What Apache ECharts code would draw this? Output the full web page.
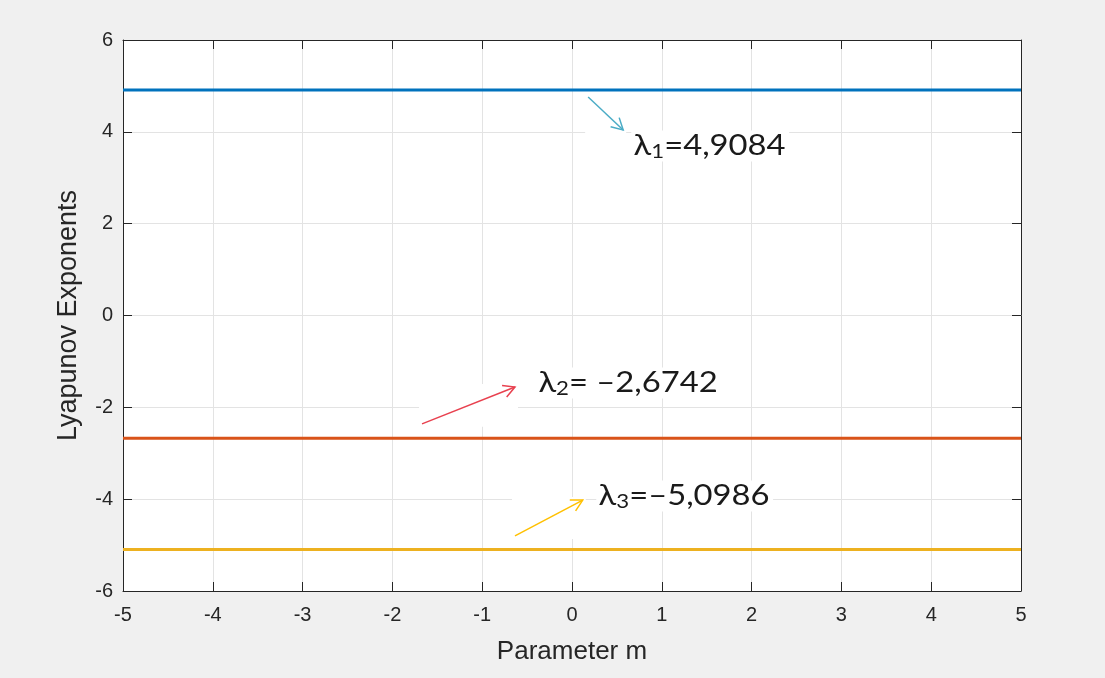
<!DOCTYPE html>
<html>
<head>
<meta charset="utf-8">
<script src="https://cdn.jsdelivr.net/npm/echarts@6/dist/echarts.min.js"></script>
<style>
  html, body { margin: 0; padding: 0; background: #f0f0f0; }
  #g_chart { width: 1105px; height: 678px; }
</style>
</head>
<body>
<div id="g_chart"></div>
<script>
// range of the parameter m
var paramRange = [-5, 5];
// exponents
var lambdaNames = ['λ1', 'λ2', 'λ3'];
var lambdaValues = [4.9084, -2.6742, -5.0986];
var lambdaColors = ['#0072bd', '#d95319', '#edb120'];
// annotation labels
var noteTexts = ['=4,9084', '= –2,6742', '=–5,0986'];
var noteSubs = ['1', '2', '3'];
var noteColors = ['#4bacc6', '#e8414f', '#ffc000'];
// arrow start / end, label anchor (data units)
var arrowFrom = [[0.18, 4.76], [-1.67, -2.36], [-0.635, -4.80]];
var arrowTo = [[0.57, 4.04], [-0.635, -1.557], [0.12, -4.02]];
var labelAt = [[0.66, 3.69], [-0.40, -1.47], [0.27, -3.93]];

var xTicks = [-5, -4, -3, -2, -1, 0, 1, 2, 3, 4, 5];
var yTicks = [-6, -4, -2, 0, 2, 4, 6];

var chart = echarts.init(document.getElementById('g_chart'));

var axisCol = '#262626';
var axisFont = '"Liberation Sans", Arial, Helvetica, sans-serif';
function baseAxis(extra) {
    var a = {
        axisLine: { show: true, onZero: false, lineStyle: { color: axisCol, width: 1 } },
        axisTick: { show: true, inside: true, length: 9, lineStyle: { color: axisCol } },
        splitLine: { show: false },
        axisLabel: { show: false }
    };
    for (var k in extra) a[k] = extra[k];
    return a;
}

var series = [];
lambdaValues.map(function (v, i) {
    series.push({
        name: lambdaNames[i],
        type: 'line',
        symbol: 'none',
        lineStyle: { color: lambdaColors[i], width: 3 },
        data: paramRange.map(function (m) { return [m, v]; }),
        z: 3
    });
});

// arrows
series.push({
    type: 'custom',
    z: 4,
    data: arrowFrom.map(function (p, i) {
        return [p[0], p[1], arrowTo[i][0], arrowTo[i][1], i];
    }),
    renderItem: function (params, api) {
        var p0 = api.coord([api.value(0), api.value(1)]);
        var p1 = api.coord([api.value(2), api.value(3)]);
        var col = noteColors[api.value(4)];
        var ang = Math.atan2(p1[1] - p0[1], p1[0] - p0[0]);
        var h = 13, a = 0.5;
        var hl = [p1[0] - h * Math.cos(ang - a), p1[1] - h * Math.sin(ang - a)];
        var hr = [p1[0] - h * Math.cos(ang + a), p1[1] - h * Math.sin(ang + a)];
        var x0 = Math.min(p0[0], p1[0]) - 3, y0 = Math.min(p0[1], p1[1]) - 3;
        var w = Math.abs(p1[0] - p0[0]) + 6, hh = Math.abs(p1[1] - p0[1]) + 6;
        return {
            type: 'group',
            children: [
                { type: 'rect', shape: { x: x0, y: y0, width: w, height: hh }, style: { fill: '#fff' } },
                { type: 'line', shape: { x1: p0[0], y1: p0[1], x2: p1[0], y2: p1[1] },
                  style: { stroke: col, lineWidth: 1.5 } },
                { type: 'polyline', shape: { points: [hl, p1, hr] },
                  style: { stroke: col, fill: null, lineWidth: 1.5 } }
            ]
        };
    }
});

// labels (slightly wide face, like the original)
series.push({
    type: 'custom',
    z: 5,
    data: labelAt.map(function (p, i) { return [p[0], p[1], i]; }),
    renderItem: function (params, api) {
        var p = api.coord([api.value(0), api.value(1)]);
        var i = api.value(2);
        return {
            type: 'text',
            x: p[0],
            y: p[1],
            scaleX: 1.17,
            style: {
                text: '{l|λ}{s|' + noteSubs[i] + '}{l|' + noteTexts[i] + '}',
                align: 'left',
                verticalAlign: 'middle',
                backgroundColor: '#fff',
                padding: [0, 3, 0, 2],
                rich: {
                    l: { fontFamily: 'Lato, "DejaVu Sans", sans-serif', fontSize: 28, fill: '#1a1a1a', color: '#1a1a1a', verticalAlign: 'middle' },
                    s: { fontFamily: 'Lato, "DejaVu Sans", sans-serif', fontSize: 19, fill: '#1a1a1a', color: '#1a1a1a', verticalAlign: 'bottom', padding: [12, 0, 0, 0] }
                }
            }
        };
    }
});

chart.setOption({
    backgroundColor: '#f0f0f0',
    animation: false,
    textStyle: { fontFamily: axisFont },
    grid: {
        left: 123, top: 40, right: 84, bottom: 87,
        show: true, backgroundColor: '#fff', borderWidth: 0
    },
    xAxis: [
        baseAxis({
            type: 'value', position: 'bottom',
            min: -5, max: 5, interval: 1,
            axisLabel: { show: true, color: axisCol, fontSize: 20, margin: 14, fontFamily: axisFont,
                formatter: function (v) { return xTicks.indexOf(v) >= 0 ? String(v) : ''; } },
            splitLine: { show: true, lineStyle: { color: '#e3e3e3', width: 1 } },
            name: 'Parameter m', nameLocation: 'middle', nameGap: 48,
            nameTextStyle: { color: axisCol, fontSize: 26, fontFamily: axisFont }
        }),
        baseAxis({ type: 'value', position: 'top', min: -5, max: 5, interval: 1 })
    ],
    yAxis: [
        baseAxis({
            type: 'value', position: 'left',
            min: -6, max: 6, interval: 2,
            axisLabel: { show: true, color: axisCol, fontSize: 20, margin: 10, fontFamily: axisFont,
                formatter: function (v) { return yTicks.indexOf(v) >= 0 ? String(v) : ''; } },
            splitLine: { show: true, lineStyle: { color: '#e3e3e3', width: 1 } },
            name: 'Lyapunov Exponents', nameLocation: 'middle', nameGap: 41,
            nameTextStyle: { color: axisCol, fontSize: 27, fontFamily: axisFont }
        }),
        baseAxis({ type: 'value', position: 'right', min: -6, max: 6, interval: 2 })
    ],
    series: series
});
</script>
</body>
</html>
